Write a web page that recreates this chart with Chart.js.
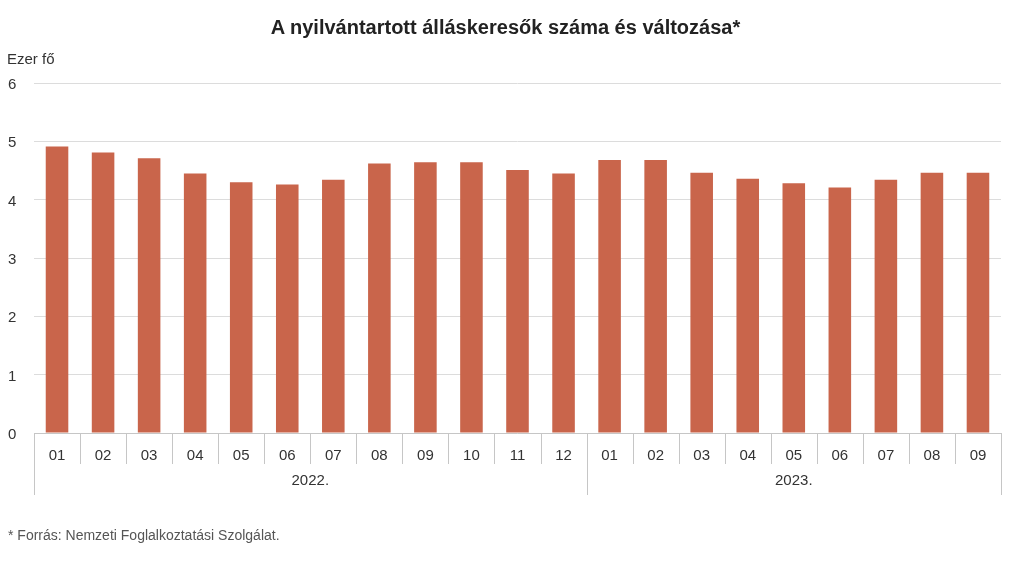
<!DOCTYPE html>
<html>
<head>
<meta charset="utf-8">
<script src="https://cdn.jsdelivr.net/npm/chart.js@4"></script>
<style>
  html, body { margin: 0; padding: 0; background: #fff; }
  body { width: 1011px; height: 568px; position: relative; overflow: hidden; font-family: "Liberation Sans", Arial, sans-serif; }
  #title { position: absolute; left: 0; width: 1011px; top: 16px; text-align: center; font-weight: bold; font-size: 20px; color: #222; }
  #unit { position: absolute; left: 7px; top: 50px; font-size: 15px; color: #333; }
  #note { position: absolute; left: 8px; top: 527px; font-size: 14px; color: #555; }
  #wrap { position: absolute; left: 0; top: 0; width: 1011px; height: 568px; }
</style>
</head>
<body>
<div id="wrap"><canvas id="chart"></canvas></div>
<div id="title">A nyilvántartott álláskeresők száma és változása*</div>
<div id="unit">Ezer fő</div>
<div id="note">* Forrás: Nemzeti Foglalkoztatási Szolgálat.</div>
<script>
// data (ezer fő)
const years = ["2022.", "2023."];
const months2022 = ["01", "02", "03", "04", "05", "06", "07", "08", "09", "10", "11", "12"];
const months2023 = ["01", "02", "03", "04", "05", "06", "07", "08", "09"];
const values2022 = [4.91, 4.81, 4.71, 4.45, 4.30, 4.26, 4.34, 4.62, 4.64, 4.64, 4.51, 4.45];
const values2023 = [4.68, 4.68, 4.46, 4.36, 4.28, 4.21, 4.34, 4.46, 4.46];
const yTicks = [0, 1, 2, 3, 4, 5, 6];

const labels = months2022.concat(months2023);
const values = values2022.concat(values2023);
const groups = [months2022.length, months2023.length];

// draws the two-row category axis (months + years)
const groupedAxis = {
  id: "groupedAxis",
  afterDraw(chart) {
    const ctx = chart.ctx;
    const area = chart.chartArea;
    const x = chart.scales.x;
    const w = (area.right - area.left) / labels.length;
    const bottom = area.bottom;
    ctx.save();
    ctx.strokeStyle = "#c6c6c6";
    ctx.lineWidth = 1;
    ctx.beginPath();
    ctx.moveTo(area.left, bottom + 0.5);
    ctx.lineTo(area.right, bottom + 0.5);
    // month separators
    for (let i = 0; i <= labels.length; i++) {
      const px = Math.round(area.left + i * w) + 0.5;
      ctx.moveTo(px, bottom);
      ctx.lineTo(px, bottom + 31);
    }
    // year separators
    let idx = 0;
    const bounds = [0];
    groups.forEach(n => { idx += n; bounds.push(idx); });
    bounds.forEach(b => {
      const px = Math.round(area.left + b * w) + 0.5;
      ctx.moveTo(px, bottom);
      ctx.lineTo(px, bottom + 62);
    });
    ctx.stroke();

    ctx.fillStyle = "#333";
    ctx.font = "15px 'Liberation Sans', Arial, sans-serif";
    ctx.textAlign = "center";
    ctx.textBaseline = "middle";
    labels.forEach((l, i) => {
      ctx.fillText(l, x.getPixelForValue(i), bottom + 23);
    });
    years.forEach((y, g) => {
      const a = area.left + bounds[g] * w;
      const b = area.left + bounds[g + 1] * w;
      ctx.fillText(y, (a + b) / 2, bottom + 48);
    });
    ctx.restore();
  }
};

new Chart(document.getElementById("chart"), {
  type: "bar",
  data: {
    labels: labels,
    datasets: [{
      data: values,
      backgroundColor: "#c9654b",
      barPercentage: 0.49,
      categoryPercentage: 1
    }]
  },
  options: {
    responsive: true,
    maintainAspectRatio: false,
    animation: false,
    layout: { padding: { left: 8, right: 10, top: 83, bottom: 135 } },
    plugins: { legend: { display: false }, tooltip: { enabled: false } },
    scales: {
      x: { display: false },
      y: {
        min: 0,
        max: 6,
        afterFit(scale) { scale.width = 26; },
        afterBuildTicks(scale) { scale.ticks = yTicks.map(v => ({ value: v })); },
        border: { display: false },
        grid: { color: "#dcdcdc", drawTicks: false },
        ticks: {
          crossAlign: "far",
          padding: 0,
          labelOffset: 2,
          color: "#333",
          font: { family: "'Liberation Sans', Arial, sans-serif", size: 15 }
        }
      }
    }
  },
  plugins: [groupedAxis]
});
</script>
</body>
</html>
